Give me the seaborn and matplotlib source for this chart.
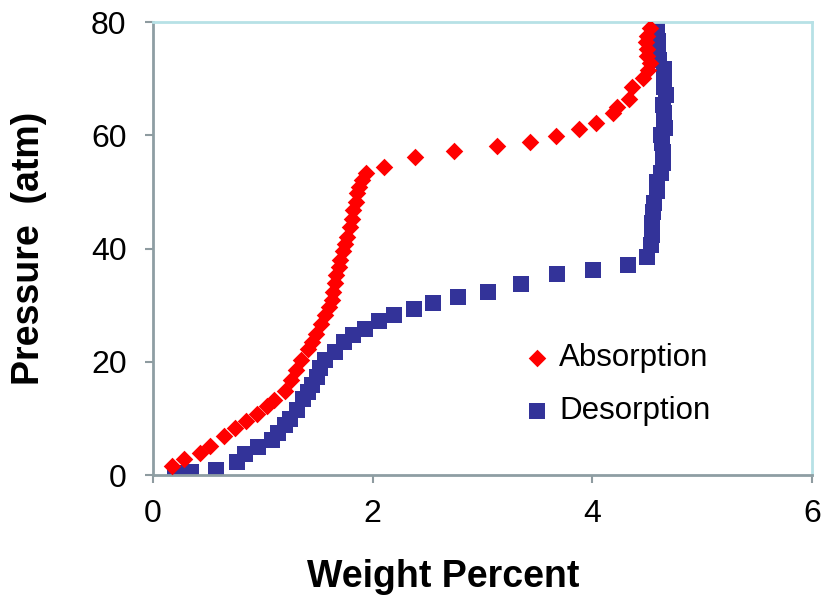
import numpy as np
import pandas as pd
import matplotlib
matplotlib.use("Agg")
import matplotlib.pyplot as plt
import seaborn as sns

# --- Data (weight % vs pressure in atm) ---
abs_weight = [0.17, 0.285, 0.43, 0.52, 0.65, 0.75, 0.85, 0.95, 1.04, 1.10,
              1.20, 1.26, 1.30, 1.35, 1.41, 1.445, 1.485, 1.53, 1.57, 1.60,
              1.63, 1.64, 1.66, 1.67, 1.69, 1.70, 1.73, 1.75, 1.77, 1.79,
              1.81, 1.82, 1.85, 1.86, 1.88, 1.90, 1.94, 2.10, 2.39, 2.74,
              3.13, 3.43, 3.67, 3.88, 4.03, 4.19, 4.22, 4.33, 4.36, 4.46,
              4.51, 4.52, 4.50, 4.50, 4.49, 4.50, 4.52]
abs_pressure = [1.6, 2.9, 3.9, 5.1, 6.9, 8.4, 9.6, 10.8, 12.2, 13.2,
                14.9, 16.8, 18.5, 20.3, 22.2, 23.6, 25.0, 26.7, 28.3, 29.7,
                30.9, 32.4, 33.9, 35.3, 36.8, 38.0, 39.6, 40.9, 42.0, 43.9,
                45.3, 46.8, 48.3, 49.8, 50.9, 52.1, 53.4, 54.5, 56.1, 57.2,
                58.1, 58.9, 59.9, 61.1, 62.2, 64.0, 65.0, 66.4, 68.6, 70.1,
                71.5, 72.8, 74.0, 75.3, 76.5, 77.6, 78.9]

des_weight = [0.20, 0.35, 0.57, 0.77, 0.84, 0.96, 1.08, 1.14, 1.20, 1.25,
              1.31, 1.37, 1.41, 1.445, 1.49, 1.52, 1.57, 1.66, 1.74, 1.82,
              1.93, 2.06, 2.19, 2.38, 2.55, 2.78, 3.05, 3.35, 3.68, 4.01,
              4.32, 4.50, 4.53, 4.54, 4.54, 4.55, 4.56, 4.59, 4.59, 4.62,
              4.64, 4.64, 4.63, 4.62, 4.66, 4.65, 4.65, 4.64, 4.67, 4.65,
              4.65, 4.65, 4.61, 4.60, 4.60, 4.59, 4.59]
des_pressure = [0.4, 0.6, 0.9, 2.4, 3.7, 5.0, 6.3, 7.5, 8.8, 10.0,
                11.5, 13.4, 14.7, 15.9, 17.4, 18.9, 20.3, 21.8, 23.6, 24.7,
                25.9, 27.3, 28.3, 29.3, 30.4, 31.4, 32.4, 33.8, 35.5, 36.2,
                37.1, 38.5, 40.6, 42.4, 44.5, 46.5, 48.0, 50.1, 51.8, 53.3,
                55.1, 57.1, 58.6, 60.1, 61.3, 62.7, 63.9, 65.4, 67.1, 68.6,
                70.1, 71.8, 73.3, 75.1, 76.6, 77.7, 79.5]

x_ticks = [0, 2, 4, 6]
y_ticks = [0, 20, 40, 60, 80]

df_abs = pd.DataFrame({"Weight": abs_weight, "Pressure": abs_pressure})
df_des = pd.DataFrame({"Weight": des_weight, "Pressure": des_pressure})

# --- Style ---
sns.set_style("white")
plt.rcParams["font.family"] = ["Liberation Sans", "DejaVu Sans"]
plt.rcParams["text.color"] = "black"
plt.rcParams["axes.labelcolor"] = "black"
plt.rcParams["xtick.color"] = "black"
plt.rcParams["ytick.color"] = "black"

fig, ax = plt.subplots(figsize=(8.22, 5.97), dpi=100)
fig.subplots_adjust(left=0.186, right=0.988, bottom=0.204, top=0.963)

sns.scatterplot(data=df_abs, x="Weight", y="Pressure", marker="D", s=80,
                color="#ff0000", linewidth=0, label="Absorption", ax=ax, zorder=3)
sns.scatterplot(data=df_des, x="Weight", y="Pressure", marker="s", s=135,
                color="#333399", linewidth=0, label="Desorption", ax=ax, zorder=2)

ax.set_xlim(0, 6)
ax.set_ylim(0, 80)
ax.set_xticks(x_ticks)
ax.set_yticks(y_ticks)
ax.tick_params(axis="both", labelsize=23, labelcolor="black", direction="out",
               length=6, width=1.5, color="#8e9ba0", bottom=True, left=True)
ax.tick_params(axis="x", pad=11)
ax.tick_params(axis="y", pad=13)

ax.set_xlabel("Weight Percent", fontsize=27, fontweight="bold")
ax.set_ylabel("Pressure  (atm)", fontsize=27, fontweight="bold")
# Excel centres the x title on the chart area, not the plot area
ax.xaxis.set_label_coords(0.44, -0.185)
ax.yaxis.set_label_coords(-0.16, 0.5)

for side in ["left", "bottom"]:
    ax.spines[side].set_color("#8e9ea3")
    ax.spines[side].set_linewidth(2)
for side in ["top", "right"]:
    ax.spines[side].set_color("#b7e1e6")
    ax.spines[side].set_linewidth(2)

ax.legend(frameon=False, loc="center left", bbox_to_anchor=(0.54, 0.2),
          fontsize=22.5, handlelength=0.8, handletextpad=0.3, labelspacing=0.72,
          borderpad=0, markerscale=1.0)

fig.savefig("out.png", dpi=100)
